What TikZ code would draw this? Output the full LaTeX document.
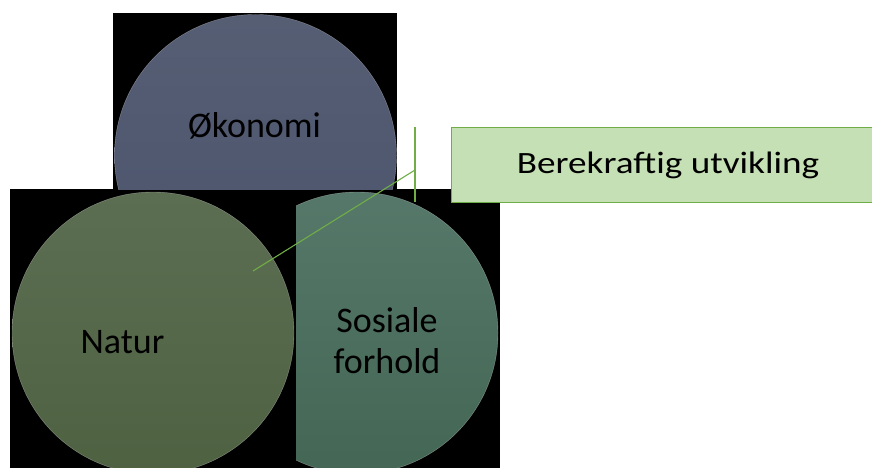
\documentclass[tikz,border=0pt]{standalone}
\usepackage{fontspec}
\setmainfont{Carlito}
\usetikzlibrary{positioning}

\definecolor{okotop}{RGB}{86,94,116}
\definecolor{okobot}{RGB}{74,84,108}
\definecolor{naturtop}{RGB}{92,110,82}
\definecolor{naturbot}{RGB}{78,98,66}
\definecolor{sosialtop}{RGB}{86,120,106}
\definecolor{sosialbot}{RGB}{68,102,84}
\definecolor{calloutfill}{RGB}{197,224,180}
\definecolor{calloutedge}{RGB}{112,173,71}

\begin{document}
\begin{tikzpicture} [
            x = 1pt, y = -1pt,
            panel/.style = {fill=black},
            ring/.style = {circle, inner sep=0pt, minimum size=282pt,
                draw=white!70!gray, line width=0.4pt, draw opacity=0.45},
            circtext/.style = {font=\fontsize{36}{41}\selectfont, align=center, anchor=base},
            leader/.style = {draw=calloutedge, line width=1.1pt},
        ]

            \useasboundingbox (0, 0) rectangle (872, 468);

            % black panels behind the circles
            \fill[panel] (113,  13) rectangle (397, 189);
            \fill[panel] ( 10, 189) rectangle (296, 468);
            \fill[panel] (296, 189) rectangle (500, 468);

            \begin{scope}
                \clip (113, 13) rectangle (397, 189);
                \node[ring, top color=okotop, bottom color=okobot] (oko) at (255.5, 155.5) {};
            \end{scope}
            \begin{scope}
                \clip (10, 189) rectangle (296, 468);
                \node[ring, top color=naturtop, bottom color=naturbot] (natur) at (153, 333) {};
            \end{scope}
            \begin{scope}
                \clip (296, 189) rectangle (500, 468);
                \node[ring, top color=sosialtop, bottom color=sosialbot] (sosial) at (357, 333) {};
            \end{scope}

            \node[circtext] (okotext)    at (254.5, 138) {Økonomi};
            \node[circtext] (naturtext)  at (122.5, 353) {Natur};
            \node[circtext] (sosialtext) at (387, 373) {Sosiale\\forhold};

            % callout
            \node[draw=calloutedge, fill=calloutfill, line width=1pt,
                minimum width=440pt, minimum height=75pt, anchor=north west,
                inner sep=0pt] (callout) at (451, 127) {};
            \node[font=\fontsize{31}{37}\selectfont, anchor=base] (callouttext) at (668, 173)
                {\scalebox{1.2}[1]{Berekraftig utvikling}};

            \coordinate (tip)    at (253, 271);
            \coordinate (knee)   at (415, 170);
            \coordinate (bartop) at (415, 127);
            \coordinate (barbot) at (415, 202);

            \draw[leader] (tip) -- (knee);
            \draw[leader] (bartop) -- (barbot);
        \end{tikzpicture}
\end{document}
